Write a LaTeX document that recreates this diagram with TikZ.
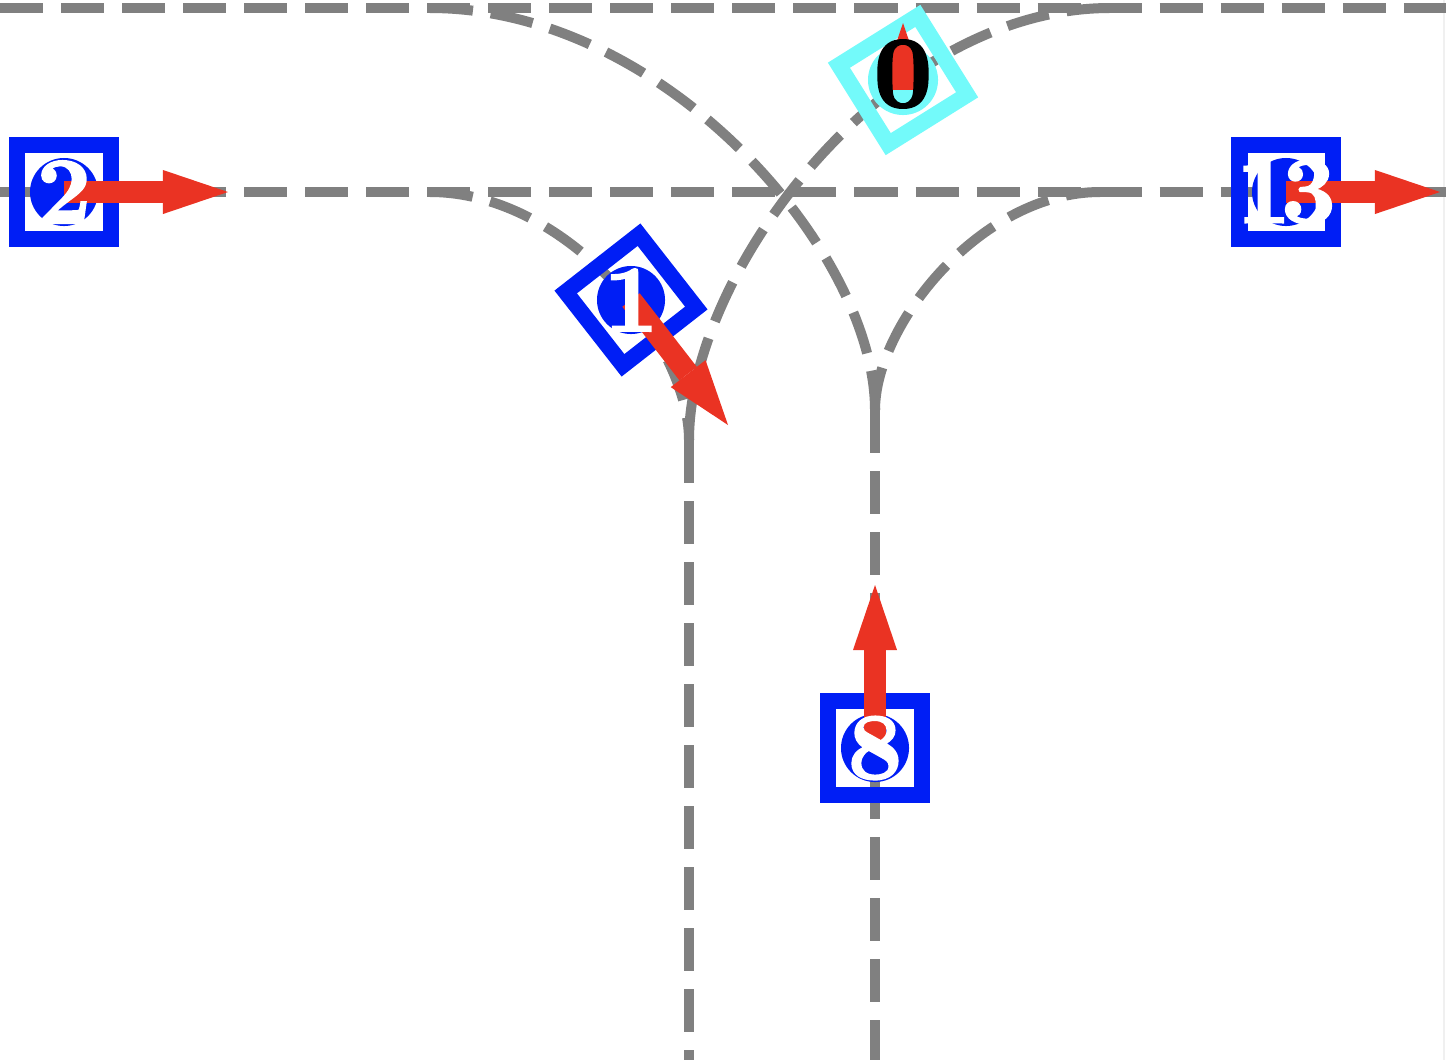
\documentclass[tikz,border=0pt]{standalone}
\usepackage{fontspec}
\usetikzlibrary{arrows.meta}

\newfontfamily\vehfont{lmroman10-bold.otf}[FakeBold=2]

\definecolor{vblue}{RGB}{0,30,245}
\definecolor{vcyan}{RGB}{115,250,250}
\definecolor{vred}{RGB}{234,51,35}

\tikzset{
  lane/.style={gray, line width=0.1cm, dash pattern=on 0.43cm off 0.18cm},
  vehbox/.style={draw, line width=0.16cm, minimum size=0.93cm, inner sep=0pt},
  heading/.style={draw=vred, line width=0.22cm,
    -{Triangle[length=0.65cm,width=0.44cm,line width=0pt]}},
  vehid/.style={text=white, inner sep=0pt,
    font=\fontsize{27}{27}\selectfont\vehfont},
}

\begin{document}
\begin{tikzpicture}[x=0.01cm,y=-0.01cm]
    \useasboundingbox (0,0) rectangle (1446,1060);
    \draw[gray!12, line width=0.02cm] (1444,0) -- (1444,1060);

    % lanes
    \draw[lane] (0,8) -- (1446,8);
    \draw[lane] (0,192) -- (1446,192);
    \draw[lane] (689,440) -- (689,1060);
    \draw[lane] (875,410) -- (875,1060);
    \draw[lane] (430,8) .. controls (666,8) and (875,253) .. (875,410);
    \draw[lane] (430,192) .. controls (567,192) and (689,343) .. (689,440);
    \draw[lane] (689,440) .. controls (689,272) and (887,8) .. (1110,8);
    \draw[lane] (875,410) .. controls (875,325) and (981,192) .. (1100,192);

    % vehicle 2
    \node[vehbox, draw=vblue] (v2) at (64,192) {};
    \coordinate (h2) at (228,192);
    \fill[vblue] (v2) circle (0.34cm);
    \draw[heading] (v2.center) -- (h2);
    \node[vehid] at (v2) {2};

    % vehicle 1
    \node[vehbox, draw=vblue, rotate=-52] (v1) at (631,300) {};
    \coordinate (h1) at (728,425);
    \fill[vblue] (v1) circle (0.34cm);
    \draw[heading] (v1.center) -- (h1);
    \node[vehid] at (v1) {1};

    % vehicle 0
    \node[vehbox, draw=vcyan, rotate=32] (v0) at (903,80) {};
    \coordinate (t0) at (903,90);
    \coordinate (h0) at (903,23);
    \fill[vcyan] (v0) circle (0.35cm);
    \draw[heading] (t0) -- (h0);
    \node[vehid, text=black, font=\fontsize{29}{29}\selectfont\vehfont] at (903,74) {0};

    % vehicle 13
    \node[vehbox, draw=vblue] (v13) at (1286,192) {};
    \coordinate (h13) at (1440,192);
    \fill[vblue] (v13) circle (0.34cm);
    \draw[heading] (v13.center) -- (h13);
    \node[vehid] at (v13) {1\kern-0.1em3};

    % vehicle 8
    \node[vehbox, draw=vblue] (v8) at (875,748) {};
    \coordinate (h8) at (875,585);
    \fill[vblue] (v8) circle (0.34cm);
    \draw[heading] (v8.center) -- (h8);
    \node[vehid] at (v8) {8};
\end{tikzpicture}
\end{document}
